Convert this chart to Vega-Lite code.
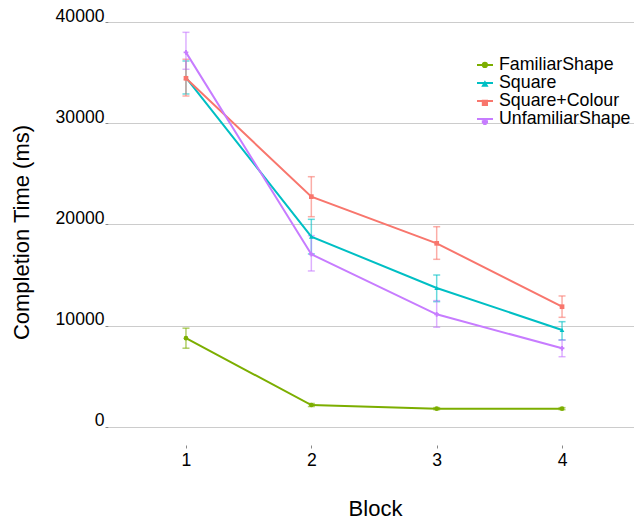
{
  "$schema": "https://vega.github.io/schema/vega-lite/v6.json",
  "width": 526,
  "height": 423,
  "autosize": {"type": "none"},
  "padding": {"left": 108, "top": 22, "right": 0, "bottom": 76},
  "config": {
    "view": {"stroke": null},
    "font": "Liberation Sans",
    "legend": {"padding": 0}
  },
  "data": {
    "values": [
      {"Group": "FamiliarShape", "Block": 1, "Time": 8770, "Lo": 7780, "Hi": 9760},
      {"Group": "FamiliarShape", "Block": 2, "Time": 2170, "Lo": 2020, "Hi": 2320},
      {"Group": "FamiliarShape", "Block": 3, "Time": 1810, "Lo": 1710, "Hi": 1910},
      {"Group": "FamiliarShape", "Block": 4, "Time": 1810, "Lo": 1710, "Hi": 1910},
      {"Group": "Square", "Block": 1, "Time": 34500, "Lo": 32890, "Hi": 36150},
      {"Group": "Square", "Block": 2, "Time": 18800, "Lo": 17090, "Hi": 20510},
      {"Group": "Square", "Block": 3, "Time": 13730, "Lo": 12380, "Hi": 15010},
      {"Group": "Square", "Block": 4, "Time": 9580, "Lo": 8590, "Hi": 10400},
      {"Group": "Square+Colour", "Block": 1, "Time": 34440, "Lo": 32690, "Hi": 36320},
      {"Group": "Square+Colour", "Block": 2, "Time": 22750, "Lo": 20770, "Hi": 24720},
      {"Group": "Square+Colour", "Block": 3, "Time": 18140, "Lo": 16560, "Hi": 19780},
      {"Group": "Square+Colour", "Block": 4, "Time": 11880, "Lo": 10830, "Hi": 12940},
      {"Group": "UnfamiliarShape", "Block": 1, "Time": 37000, "Lo": 35330, "Hi": 38980},
      {"Group": "UnfamiliarShape", "Block": 2, "Time": 17060, "Lo": 15410, "Hi": 18900},
      {"Group": "UnfamiliarShape", "Block": 3, "Time": 11130, "Lo": 9850, "Hi": 12480},
      {"Group": "UnfamiliarShape", "Block": 4, "Time": 7770, "Lo": 6940, "Hi": 8590}
    ]
  },
  "encoding": {
    "x": {
      "field": "Block",
      "type": "quantitative",
      "scale": {"domain": [0.378, 4.574], "nice": false, "zero": false},
      "axis": {
        "values": [1, 2, 3, 4],
        "format": "d",
        "grid": false,
        "domain": false,
        "tickSize": 3,
        "tickColor": "#888888",
        "labelPadding": 3,
        "labelFontSize": 17.6,
        "labelColor": "#000000",
        "title": "Block",
        "titleFontSize": 22,
        "titleFontWeight": "normal",
        "titleColor": "#000000",
        "titleX": 267,
        "titleY": 70,
        "titleBaseline": "alphabetic",
        "titleAlign": "center"
      }
    },
    "xOffset": {
      "field": "Group",
      "type": "nominal",
      "scale": {"type": "point", "range": [-3.8, 3.8], "padding": 0}
    }
  },
  "layer": [
    {
      "mark": {"type": "errorbar", "ticks": {"size": 7}, "thickness": 1.5, "opacity": 0.6},
      "encoding": {
        "y": {
          "field": "Lo",
          "type": "quantitative",
          "title": "Completion Time (ms)",
          "scale": {"domain": [-1780, 40000], "nice": false, "zero": false},
          "axis": {
            "values": [0, 10000, 20000, 30000, 40000],
            "format": "d",
            "grid": true,
            "gridColor": "#cccccc",
            "gridWidth": 1,
            "domain": false,
            "tickSize": 3,
            "tickColor": "#888888",
            "labelPadding": 1,
            "labelFontSize": 17.6,
            "labelColor": "#000000",
            "labelBaseline": "alphabetic",
            "labelOffset": -1,
            "titleFontSize": 22,
            "titleFontWeight": "normal",
            "titleColor": "#000000",
            "titleX": -87,
            "titleY": 210,
            "titleAngle": -90,
            "titleBaseline": "middle",
            "titleAlign": "center"
          }
        },
        "y2": {"field": "Hi"},
        "color": {
          "field": "Group",
          "type": "nominal",
          "scale": {
            "domain": ["FamiliarShape", "Square", "Square+Colour", "UnfamiliarShape"],
            "range": ["#7CAE00", "#00BFC4", "#F8766D", "#C77CFF"]
          },
          "legend": {
            "title": null,
            "orient": "none",
            "legendX": 368,
            "legendY": 34,
            "symbolSize": 22,
            "labelFontSize": 17.8,
            "labelExpr": "' '",
            "rowPadding": 0,
            "symbolOpacity": 1,
            "zindex": 2
          }
        }
      }
    },
    {
      "mark": {"type": "line", "strokeWidth": 2},
      "encoding": {
        "y": {"field": "Time", "type": "quantitative", "title": "Completion Time (ms)"},
        "stroke": {
          "field": "Group",
          "type": "nominal",
          "scale": {
            "domain": ["FamiliarShape", "Square", "Square+Colour", "UnfamiliarShape", "zz"],
            "range": ["#7CAE00", "#00BFC4", "#F8766D", "#C77CFF", "#ffffff"]
          },
          "legend": {
            "title": null,
            "orient": "none",
            "values": ["FamiliarShape", "Square", "Square+Colour", "UnfamiliarShape"],
            "legendX": 368,
            "legendY": 34,
            "symbolType": "stroke",
            "symbolSize": 256,
            "symbolStrokeWidth": 2,
            "labelFontSize": 17.8,
            "labelColor": "#000000",
            "labelOffset": 5,
            "rowPadding": 0,
            "zindex": 1
          }
        }
      }
    },
    {
      "mark": {"type": "point", "filled": true, "size": 22, "opacity": 1},
      "encoding": {
        "y": {"field": "Time", "type": "quantitative", "title": "Completion Time (ms)"},
        "color": {"field": "Group", "type": "nominal"},
        "shape": {
          "field": "Group",
          "type": "nominal",
          "scale": {
            "domain": ["FamiliarShape", "Square", "Square+Colour", "UnfamiliarShape"],
            "range": ["circle", "triangle-up", "square", "cross"]
          },
          "legend": {
            "title": null,
            "orient": "none",
            "legendX": 368,
            "legendY": 34,
            "symbolSize": 22,
            "labelFontSize": 17.8,
            "labelExpr": "' '",
            "rowPadding": 0,
            "symbolOpacity": 1,
            "zindex": 2
          }
        }
      }
    }
  ]
}
